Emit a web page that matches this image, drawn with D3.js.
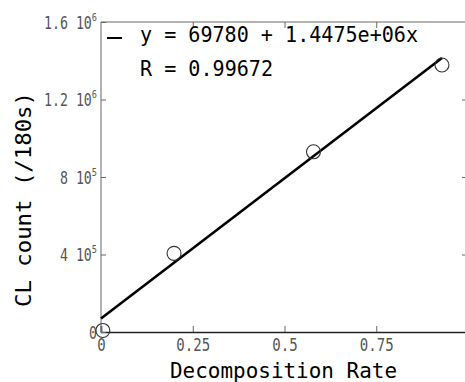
<!DOCTYPE html>
<html><head><meta charset="utf-8">
<script src="https://cdn.jsdelivr.net/npm/d3@7"></script>
<style>
html,body{margin:0;padding:0;background:#fff;overflow:hidden}
text{font-family:"DejaVu Sans Mono",monospace}
</style></head>
<body><svg id="c" width="465" height="382"></svg>
<script>
const decompRate = [0.005, 0.199, 0.579, 0.929];
const clCount = [8000, 406000, 930000, 1378000];
const fitIntercept = 69780;
const fitSlope = 1.4475e6;
const xTicks = [0, 0.25, 0.5, 0.75];
const xTickLabels = ["0", "0.25", "0.5", "0.75"];
const yTicks = [0, 4e5, 8e5, 1.2e6, 1.6e6];
const yTickMain = ["0", "4 10", "8 10", "1.2 10", "1.6 10"];
const yTickExp = ["", "5", "5", "6", "6"];
const legendLines = ["y = 69780 + 1.4475e+06x", "R = 0.99672"];
const xTitle = "Decomposition Rate";
const yTitle = "CL count (/180s)";

const svg = d3.select("#c");
const L = 101, T = 22, R = 468, B = 332;
const x = d3.scaleLinear().domain([0, 1]).range([L, R]);
const y = d3.scaleLinear().domain([0, 1.6e6]).range([B, T]);
const gray = "#666";

// frame
svg.append("line").attr("x1", L).attr("x2", R).attr("y1", T).attr("y2", T).attr("stroke", gray).attr("stroke-width", 1);
svg.append("line").attr("x1", L).attr("x2", L).attr("y1", T).attr("y2", B).attr("stroke", gray).attr("stroke-width", 1);
svg.append("line").attr("x1", R).attr("x2", R).attr("y1", T).attr("y2", B).attr("stroke", gray).attr("stroke-width", 1);

// bottom axis
const xa = svg.append("g").attr("transform", `translate(0,${B})`)
  .call(d3.axisBottom(x).tickValues(xTicks).tickSize(-6).tickPadding(4).tickFormat((d, i) => xTickLabels[i]));
xa.select(".domain").attr("stroke", "#222").attr("stroke-width", 1.6);
xa.selectAll(".tick line").attr("stroke", gray);
xa.selectAll(".tick text").attr("fill", "#555").attr("font-size", 18)
  .attr("y", 6).attr("dy", "0.71em")
  .attr("transform", "scale(0.78,1)");

// top ticks
const ta = svg.append("g").attr("transform", `translate(0,${T})`)
  .call(d3.axisTop(x).tickValues(xTicks.slice(1)).tickSize(-6).tickFormat(""));
ta.select(".domain").remove();
ta.selectAll(".tick line").attr("stroke", gray);

// left axis
const ya = svg.append("g").attr("transform", `translate(${L},0)`)
  .call(d3.axisLeft(y).tickValues(yTicks).tickSize(-5).tickFormat(""));
ya.select(".domain").remove();
ya.selectAll(".tick line").attr("stroke", gray);
ya.selectAll(".tick").each(function(d, i) {
  const t = d3.select(this).append("text").attr("fill", "#555").attr("font-size", 17)
    .attr("text-anchor", "end").attr("dy", "0.36em").attr("x", -4 / 0.78)
    .attr("transform", "scale(0.78,1)");
  t.append("tspan").text(yTickMain[i]);
  if (yTickExp[i]) t.append("tspan").attr("font-size", 11).attr("dy", "-0.7em").text(yTickExp[i]);
});

// right ticks
const ra = svg.append("g").attr("transform", `translate(${R},0)`)
  .call(d3.axisRight(y).tickValues(yTicks.slice(1, 4)).tickSize(-6).tickFormat(""));
ra.select(".domain").remove();
ra.selectAll(".tick line").attr("stroke", gray);

// fit line
const xMax = d3.max(decompRate);
svg.append("line")
  .attr("x1", x(0)).attr("y1", y(fitIntercept))
  .attr("x2", x(xMax)).attr("y2", y(fitIntercept + fitSlope * xMax))
  .attr("stroke", "#000").attr("stroke-width", 2.6);

// points
svg.selectAll("circle.pt").data(decompRate).enter().append("circle")
  .attr("class", "pt").attr("cx", d => x(d)).attr("cy", (d, i) => y(clCount[i]))
  .attr("r", 7).attr("fill", "none").attr("stroke", "#333").attr("stroke-width", 1.1);

// legend
svg.append("line").attr("x1", 107).attr("x2", 122).attr("y1", 38).attr("y2", 38).attr("stroke", "#000").attr("stroke-width", 2);
svg.append("text").attr("x", 140).attr("y", 42).attr("font-size", 21).attr("fill", "#000")
  .attr("textLength", 278).attr("lengthAdjust", "spacingAndGlyphs").text(legendLines[0]);
svg.append("text").attr("x", 140).attr("y", 76).attr("font-size", 21).attr("fill", "#000")
  .attr("textLength", 133).attr("lengthAdjust", "spacingAndGlyphs").text(legendLines[1]);

// titles
svg.append("text").attr("x", 170).attr("y", 378).attr("font-size", 22).attr("fill", "#000")
  .attr("textLength", 227).attr("lengthAdjust", "spacingAndGlyphs").text(xTitle);
svg.append("text").attr("transform", "translate(31,307) rotate(-90)").attr("font-size", 22).attr("fill", "#000")
  .attr("textLength", 215).attr("lengthAdjust", "spacingAndGlyphs").text(yTitle);
</script></body></html>
